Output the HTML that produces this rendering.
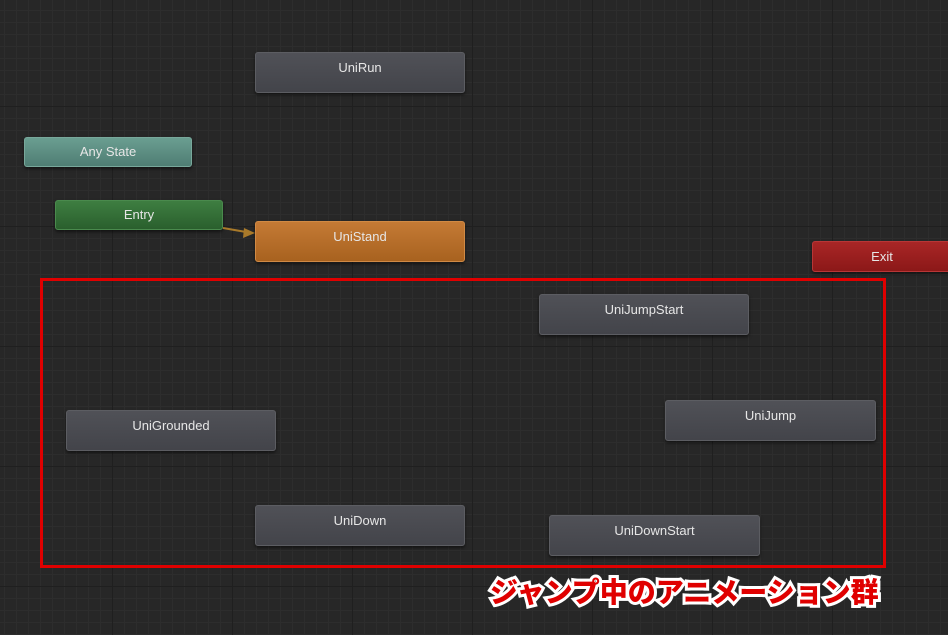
<!DOCTYPE html>
<html><head><meta charset="utf-8"><style>
body{margin:0;width:948px;height:635px;overflow:hidden;background:#272727;font-family:"Liberation Sans",sans-serif;position:relative;
background-image:linear-gradient(#1f1f1f 1px,transparent 1px),linear-gradient(90deg,#1f1f1f 1px,transparent 1px),linear-gradient(#2d2d2d 1px,transparent 1px),linear-gradient(90deg,#2d2d2d 1px,transparent 1px);
background-size:120px 120px,120px 120px,12px 12px,12px 12px;background-position:-8px -14px}
.n{position:absolute;box-sizing:border-box;border-radius:3px;color:#e6e6e6;font-size:13px;text-align:center;padding-top:7px;background:linear-gradient(#505157,#43444a);border:1px solid #5c5d62;box-shadow:0 2px 3px rgba(0,0,0,.5)}
.box{position:absolute;left:40px;top:278px;width:846px;height:290px;box-sizing:border-box;border:3px solid #e00000}
.lbl{position:absolute;left:490px;top:571px;font-family:"Liberation Sans","Noto Sans CJK JP",sans-serif;font-weight:900;font-size:28px;color:#e00000;-webkit-text-stroke:6px #fff;paint-order:stroke fill;white-space:nowrap}
</style></head><body>
<div class="n" style="left:255px;top:52px;width:210px;height:41px">UniRun</div>
<div class="n" style="left:24px;top:137px;width:168px;height:30px;background:linear-gradient(#6a9e91,#4f7d73);border-color:#78a89b;padding-top:6px">Any State</div>
<div class="n" style="left:55px;top:200px;width:168px;height:30px;background:linear-gradient(#3e7e41,#2a5f2d);border-color:#4a8a4d;padding-top:6px">Entry</div>
<div class="n" style="left:255px;top:221px;width:210px;height:41px;background:linear-gradient(#c47a35,#a8621f);border-color:#d08a45">UniStand</div>
<div class="n" style="left:812px;top:241px;width:140px;height:31px;background:linear-gradient(#a82626,#8c1818);border-color:#b83636;padding-top:7px">Exit</div>
<div class="n" style="left:539px;top:294px;width:210px;height:41px">UniJumpStart</div>
<div class="n" style="left:66px;top:410px;width:210px;height:41px">UniGrounded</div>
<div class="n" style="left:665px;top:400px;width:211px;height:41px">UniJump</div>
<div class="n" style="left:255px;top:505px;width:210px;height:41px">UniDown</div>
<div class="n" style="left:549px;top:515px;width:211px;height:41px">UniDownStart</div>
<svg style="position:absolute;left:0;top:0" width="948" height="635"><line x1="223" y1="228" x2="246" y2="232" stroke="#a97a2a" stroke-width="2"/><polygon points="255,233 244,228 243,238" fill="#a97a2a"/></svg>
<div class="box"></div>
<div class="lbl">ジャンプ中のアニメーション群</div>
</body></html>
